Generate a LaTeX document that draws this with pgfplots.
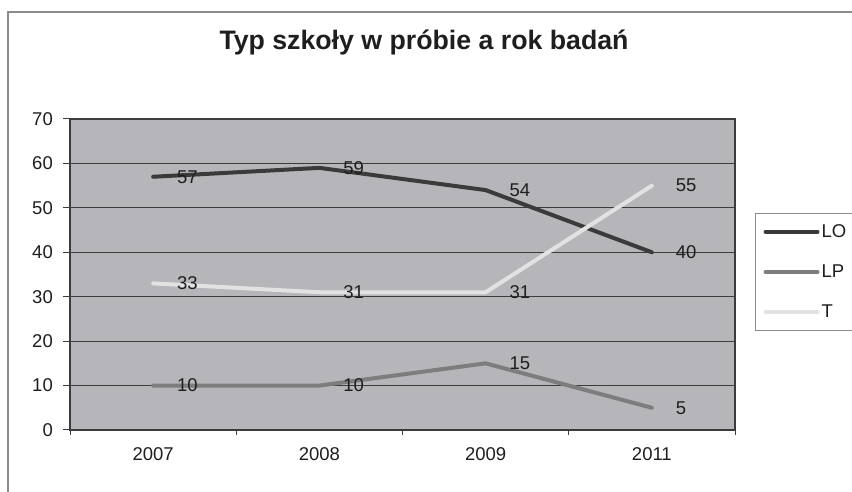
\documentclass[border=0pt]{standalone}
\usepackage{pgfplots}
\pgfplotsset{compat=1.18}
\usepackage{fontspec}
\setmainfont{Liberation Sans}

\definecolor{plotbg}{RGB}{182,182,186}
\definecolor{frameC}{RGB}{140,140,140}
\definecolor{gridC}{RGB}{60,60,60}
\definecolor{loC}{RGB}{58,58,58}
\definecolor{lpC}{RGB}{125,125,125}
\definecolor{tC}{RGB}{226,226,226}
\definecolor{txt}{RGB}{30,30,30}

\newcommand{\lbl}{\fontsize{18.5bp}{22bp}\selectfont}

\begin{document}
\begin{tikzpicture}[x=1bp,y=1bp]
  \path[use as bounding box] (0,0) rectangle (852,492);
  % outer chart frame
  \draw[frameC, line width=1.5bp] (8,0) -- (8,480) -- (852,480);
  \node[anchor=base, text=txt, font=\bfseries\fontsize{26.7bp}{30bp}\selectfont]
    at (424,442) {Typ szkoły w próbie a rok badań};

  \begin{axis}[
    at={(70bp,62bp)}, anchor=south west,
    scale only axis,
    width=665bp, height=311bp,
    xmin=-0.5, xmax=3.5,
    ymin=0, ymax=70,
    ytick={0,10,...,70},
    xtick={0,1,2,3},
    xticklabels={2007,2008,2009,2011},
    minor xtick={-0.5,0.5,1.5,2.5,3.5},
    xtick pos=bottom, ytick pos=left,
    tick align=outside,
    major tick length=7bp,
    minor tick length=5bp,
    major x tick style={draw=none},
    minor x tick style={gridC, line width=1bp},
    major y tick style={gridC, line width=1bp},
    ymajorgrids,
    grid style={gridC, line width=0.8bp},
    axis line style={gridC, line width=1.5bp},
    axis background/.style={fill=plotbg},
    /pgf/number format/assume math mode=true,
    tick label style={font=\lbl, text=txt, inner sep=0pt},
    yticklabel style={xshift=-10bp},
    xticklabel style={yshift=-10bp},
    legend cell align=left,
    legend image code/.code={\draw[#1, line width=4bp] (0bp,0bp) -- (52bp,0bp);},
    legend style={at={(1.0301,0.6977)}, anchor=north west,
      draw=frameC, line width=1bp, fill=white, font=\lbl, text=txt,
      inner xsep=8bp, inner ysep=9bp, row sep=22bp,
      nodes={inner xsep=2bp}},
    nodes near coords,
    every node near coord/.append style={anchor=west, xshift=22bp,
      inner sep=0pt, font=\lbl, text=txt},
  ]
    \addplot[loC, line width=4bp, line join=round, line cap=round] coordinates {
      (0,57) (1,59) (2,54) (3,40)};
    \addlegendentry{LO}
    \addplot[lpC, line width=4bp, line join=round, line cap=round] coordinates {
      (0,10) (1,10) (2,15) (3,5)};
    \addlegendentry{LP}
    \addplot[tC, line width=4bp, line join=round, line cap=round] coordinates {
      (0,33) (1,31) (2,31) (3,55)};
    \addlegendentry{T}
  \end{axis}
\end{tikzpicture}
\end{document}
